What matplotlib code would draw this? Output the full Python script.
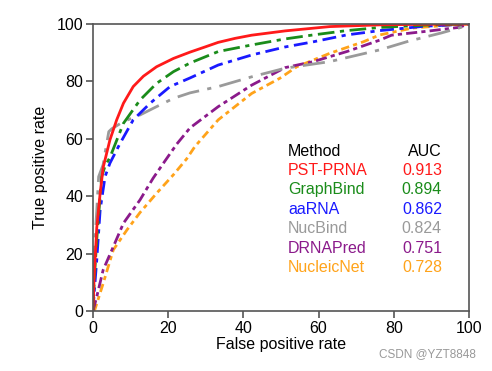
import matplotlib
matplotlib.use("Agg")
import matplotlib.pyplot as plt

plt.rcParams['font.family'] = ['Liberation Sans', 'DejaVu Sans']

methods = ["PST-PRNA", "GraphBind", "aaRNA", "NucBind", "DRNAPred", "NucleicNet"]
aucs = ["0.913", "0.894", "0.862", "0.824", "0.751", "0.728"]
colors = ["#ff1a1a", "#1a8c1a", "#1a1aff", "#9a9a9a", "#8b1a8b", "#ffa31a"]

red_x = [0, 0.3, 1, 1.9, 2.7, 4.5, 6.3, 8.1, 10.7, 13.4, 16.9, 21.4, 25.8, 29.8, 33.3,
         37.8, 42.2, 51.1, 63, 76.3, 88, 100]
red_y = [0, 12, 29, 41, 50, 59.6, 66.6, 72.4, 78.2, 81.8, 85.1, 88.0, 90.2, 92.0, 93.6,
         95, 96.1, 97.6, 99.1, 99.7, 99.9, 100]

green_x = [0, 0.3, 1, 2.3, 3.2, 4.5, 8.1, 12.5, 16.9, 21.4, 25.8, 33.3, 42.2, 51.1,
           58.6, 67.5, 76.3, 88, 100]
green_y = [0, 10, 25, 46.8, 50.5, 53.5, 65.4, 73.5, 79.3, 83.4, 86.4, 90.4, 92.7, 94.8,
           96.2, 97.7, 98.8, 99.6, 100]

blue_x = [0, 0.3, 1, 1.9, 3.2, 4.5, 7.2, 10.7, 15.2, 20.5, 25.8, 33.3, 42.2, 51.1,
          58.6, 67.5, 76.3, 88, 100]
blue_y = [0, 6, 17.8, 35.2, 46.8, 51.5, 58.4, 66.6, 72.4, 78.2, 81.2, 85.7, 89.2, 92.0,
          93.8, 96.2, 97.7, 99.2, 100]

gray_x = [0, 0.3, 1, 1.5, 2.7, 3.2, 4.2, 5, 8.1, 12.5, 16.9, 21.4, 25.8, 33.3, 42.2,
          51.1, 63, 76.3, 83.9, 92.7, 98.9, 100]
gray_y = [0, 20, 35, 46.8, 51, 55, 62.5, 63.5, 66, 68.3, 71.2, 74.1, 76, 78.2, 81.6,
          84.6, 86.9, 91, 94, 96.9, 99.2, 100]

purple_x = [0, 1, 2.7, 5.4, 8.1, 12.5, 16, 19.1, 22.3, 25.8, 33.3, 42.2, 51.1, 58.6,
            67.5, 76.3, 79.4, 88.3, 97.2, 100]
purple_y = [0, 5, 14.3, 22.4, 30.6, 38.7, 46.3, 52.2, 58.2, 63.8, 71.2, 78.7, 84.8, 86.9,
            90.4, 94.4, 96.1, 97.4, 98.8, 100]

orange_x = [0, 0.5, 2.7, 5.4, 9, 12.5, 16.9, 21.4, 24.9, 27.1, 33.3, 42.2, 49.7, 54.2,
            63, 71.9, 76.3, 85, 95.7, 100]
orange_y = [0, 0.5, 9.6, 21.3, 28.2, 34.3, 41, 47.5, 53, 57.3, 66.6, 75.8, 81.1, 85.1,
            89.8, 93.8, 96.2, 98.6, 99.7, 100]

curves = [(red_x, red_y), (green_x, green_y), (blue_x, blue_y),
          (gray_x, gray_y), (purple_x, purple_y), (orange_x, orange_y)]
styles = ["-", (0, (6, 2, 1.5, 2)), (0, (5, 2, 1.5, 2)), (0, (8, 3, 1.5, 3)),
          (0, (4, 1.5, 1.5, 1.5)), (0, (3, 1.5, 1.5, 1.5))]

fig = plt.figure(figsize=(4.92, 3.71), dpi=100)
ax = fig.add_axes([93/492, 1 - 311/371, 376/492, 287/371])

for (xs, ys), c, ls in zip(reversed(curves), reversed(colors), reversed(styles)):
    ax.plot(xs, ys, color=c, linestyle=ls, linewidth=2)

ax.set_xlim(0, 100)
ax.set_ylim(0, 100)
ax.set_xticks([0, 20, 40, 60, 80, 100])
ax.set_yticks([0, 20, 40, 60, 80, 100])
for s in ax.spines.values():
    s.set_color("#555555")
    s.set_linewidth(1.2)
ax.tick_params(direction="out", length=5, width=1.2, color="#555555",
               labelsize=11.5, pad=2)
ax.set_xlabel("False positive rate", fontsize=11.5, labelpad=1)
ax.set_ylabel("True positive rate", fontsize=11.5, labelpad=6)

# legend table
x_left = 51.9
x_right = 92.8
y0 = 55.7
dy = 6.75
ax.text(x_left, y0, "Method", fontsize=11.5, color="black", va="center", ha="left")
ax.text(x_right, y0, "AUC", fontsize=11.5, color="black", va="center", ha="right")
for i, (m, a, c) in enumerate(zip(methods, aucs, colors)):
    y = y0 - dy * (i + 1)
    ax.text(x_left, y, m, fontsize=11.5, color=c, va="center", ha="left")
    ax.text(x_right, y, a, fontsize=11.5, color=c, va="center", ha="right")

fig.text(476/492, 1 - 354/371, "CSDN @YZT8848", fontsize=8.5, color="#999999",
         ha="right", va="center")

fig.savefig("out.png", dpi=100)
